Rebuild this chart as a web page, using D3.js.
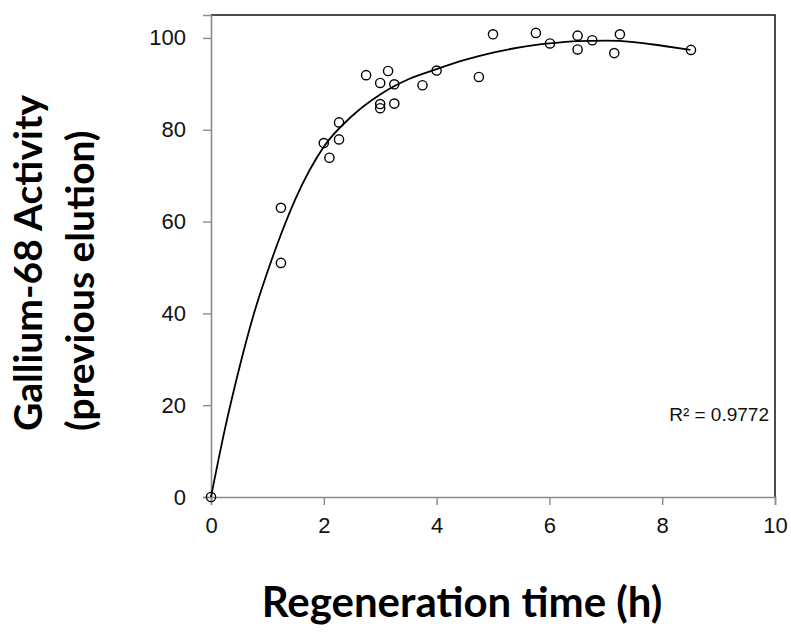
<!DOCTYPE html>
<html>
<head>
<meta charset="utf-8">
<script src="https://cdn.jsdelivr.net/npm/d3@7"></script>
<style>
  body { margin: 0; background: #fff; }
  svg { display: block; }
</style>
</head>
<body>
<svg id="chart"></svg>
<script>
// measured points (regeneration time in h, activity in %)
let timeH = [0, 1.24, 1.24, 2.0, 2.1, 2.27, 2.27, 2.75, 3.0, 3.0, 3.0, 3.14, 3.25, 3.25,
  3.75, 4.0, 4.75, 5.0, 5.76, 6.01, 6.5, 6.5, 6.76, 7.15, 7.25, 8.51];
let activity = [0, 63.0, 51.0, 77.1, 73.9, 81.6, 77.9, 91.9, 90.2, 85.6, 84.7, 92.8, 89.9, 85.7,
  89.7, 92.9, 91.5, 100.8, 101.1, 98.8, 100.5, 97.5, 99.5, 96.7, 100.8, 97.4];

// trend line
let trendX = [0, 0.25, 0.5, 0.75, 1, 1.25, 1.5, 2, 2.5, 3, 3.5, 4, 4.5, 5, 5.5, 6, 6.5, 7, 7.5, 8, 8.5];
let trendY = [0, 15, 28, 39.5, 49, 57.5, 65, 76.3, 83, 87.7, 91, 93.2, 95.2, 96.8, 98, 98.8, 99.3, 99.4, 99.1, 98.3, 97.4];

let xTicks = [0, 2, 4, 6, 8, 10],
  yTicks = [0, 20, 40, 60, 80, 100];

let rSquared = "R\u00B2 = 0.9772";

// svg size
let width = 791,
  height = 633,
  plotLeft = 211,
  plotRight = 775,
  plotTop = 15,
  plotBottom = 497;

let svg = d3.select("#chart")
  .attr("width", width)
  .attr("height", height);

let xScale = d3.scaleLinear()
  .domain([0, 10])
  .range([plotLeft, plotRight]);

let yScale = d3.scaleLinear()
  .domain([0, 105])
  .range([plotBottom, plotTop]);

// frame: black on top and right
svg.append("path")
  .attr("d", `M${plotLeft},${plotTop}H${plotRight}V${plotBottom}`)
  .attr("fill", "none")
  .attr("stroke", "#111")
  .attr("stroke-width", 1.5);

let x_axis = d3.axisBottom(xScale)
  .tickValues(xTicks)
  .tickSizeOuter(0)
  .tickSize(8)
  .tickPadding(12);

let y_axis = d3.axisLeft(yScale)
  .tickValues(yTicks)
  .tickSizeOuter(0)
  .tickSize(8)
  .tickPadding(17);

let gx = svg.append("g")
  .attr("transform", `translate(0,${plotBottom})`)
  .call(x_axis);

let gy = svg.append("g")
  .attr("transform", `translate(${plotLeft},0)`)
  .call(y_axis);

[gx, gy].forEach(g => {
  g.select(".domain").attr("stroke", "#8a8a8a").attr("stroke-width", 1.6);
  g.selectAll(".tick line").attr("stroke", "#8a8a8a").attr("stroke-width", 1.4);
  g.selectAll(".tick text")
    .attr("fill", "#111")
    .style("font-family", "'Liberation Sans', Arial, sans-serif")
    .style("font-size", "22px");
});

// trend line
let line = d3.line()
  .x((d, i) => xScale(trendX[i]))
  .y(d => yScale(d))
  .curve(d3.curveMonotoneX);

svg.append("path")
  .datum(trendY)
  .attr("d", line)
  .attr("fill", "none")
  .attr("stroke", "#000")
  .attr("stroke-width", 1.8);

// open circles
svg.selectAll("circle")
  .data(timeH)
  .enter()
  .append("circle")
  .attr("cx", d => xScale(d))
  .attr("cy", (d, i) => yScale(activity[i]))
  .attr("r", 4.6)
  .attr("fill", "none")
  .attr("stroke", "#000")
  .attr("stroke-width", 1.4);

svg.append("text")
  .attr("x", 769)
  .attr("y", 421)
  .attr("text-anchor", "end")
  .style("font-family", "'Liberation Sans', Arial, sans-serif")
  .style("font-size", "19px")
  .attr("fill", "#111")
  .text(rSquared);

// axis titles
svg.append("text")
  .attr("x", 462)
  .attr("y", 617)
  .attr("text-anchor", "middle")
  .style("font-family", "Lato, 'Open Sans', sans-serif")
  .style("font-weight", "bold")
  .style("font-size", "42px")
  .attr("fill", "#000")
  .text("Regeneration time (h)");

let yTitle = svg.append("text")
  .attr("transform", "rotate(-90)")
  .style("font-family", "Lato, 'Open Sans', sans-serif")
  .style("font-weight", "bold")
  .style("font-size", "39px")
  .attr("fill", "#000");

yTitle.append("tspan")
  .attr("x", -431)
  .attr("y", 42)
  .text("Gallium-68 Activity");

yTitle.append("tspan")
  .attr("x", -431)
  .attr("y", 94)
  .text("(previous elution)");
</script>
</body>
</html>
